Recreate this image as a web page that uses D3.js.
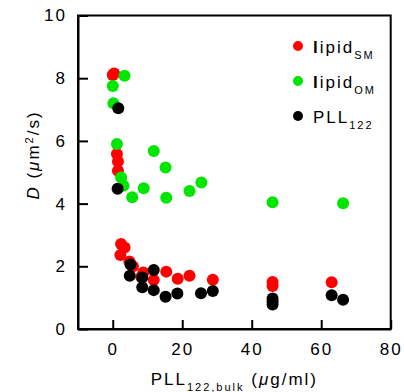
<!DOCTYPE html>
<html>
<head>
<meta charset="utf-8">
<title>D vs PLL bulk</title>
<script src="https://d3js.org/d3.v7.min.js"></script>
<style>
  body { margin: 0; background: #fff; }
  svg text { font-family: "Liberation Sans", Arial, sans-serif; fill: #000; letter-spacing: 2px; }
  .axis path, .axis line { stroke: #000; stroke-width: 2px; }
  .axis text { font-size: 17px; }
</style>
</head>
<body>
<div id="chart"></div>
<script>
  // lipid SM (red)
  var smX = [0, 0.4, 1.2, 1.5, 1.5, 2.4, 3.4, 2.2, 4.8, 5.8, 8.8, 8.2, 11.8, 15.4, 18.7, 22.1, 28.8, 46, 46, 63];
  var smY = [8.1, 8.15, 5.58, 5.34, 5.05, 2.71, 2.6, 2.36, 2.15, 2.0, 1.8, 1.66, 1.56, 1.83, 1.6, 1.7, 1.57, 1.5, 1.37, 1.49];

  // lipid OM (green)
  var omX = [3.4, 0, 0.2, 1.2, 2.4, 3.1, 5.6, 8.9, 11.8, 15.2, 15.4, 22.1, 25.5, 46, 66.3];
  var omY = [8.08, 7.75, 7.2, 5.9, 4.83, 4.57, 4.2, 4.49, 5.68, 5.15, 4.19, 4.4, 4.67, 4.04, 4.01];

  // PLL122 (black)
  var pllX = [1.6, 1.4, 5.1, 4.9, 8.5, 8.5, 11.8, 11.8, 15.2, 18.6, 25.4, 28.8, 46, 46, 46, 63, 66.3];
  var pllY = [7.04, 4.47, 2.06, 1.7, 1.64, 1.33, 1.88, 1.24, 1.03, 1.13, 1.14, 1.21, 0.97, 0.88, 0.78, 1.08, 0.93];

  var xTicks = [0, 20, 40, 60, 80];
  var yTicks = [0, 2, 4, 6, 8, 10];

  var series = [
    {name: "lipid", sub: "SM", color: "#ff0000", xs: smX, ys: smY},
    {name: "lipid", sub: "OM", color: "#00e600", xs: omX, ys: omY},
    {name: "PLL", sub: "122", color: "#000000", xs: pllX, ys: pllY}
  ];

  var svg = d3.select("#chart").append("svg")
      .attr("width", 404)
      .attr("height", 392);

  var margin = {top: 15.5, left: 78},
      width = 312.7,
      height = 313.5;

  var g = svg.append("g").attr("transform", "translate(" + margin.left + "," + margin.top + ")");

  var x = d3.scaleLinear().domain([-10, 80]).range([0, width]);
  var y = d3.scaleLinear().domain([0, 10]).range([height, 0]);

  // frame
  g.append("rect")
      .attr("width", width)
      .attr("height", height)
      .attr("fill", "none")
      .attr("stroke", "#000")
      .attr("stroke-width", 2);

  g.append("g")
      .attr("class", "axis")
      .attr("transform", "translate(0," + height + ")")
      .call(d3.axisBottom(x).tickValues(xTicks).tickSizeInner(-9).tickSizeOuter(0).tickPadding(14));

  g.append("g")
      .attr("class", "axis")
      .call(d3.axisLeft(y).tickValues(yTicks).tickSizeInner(-10).tickSizeOuter(0).tickPadding(11));

  // points: red, then green, then black on top
  series.forEach(function(s) {
    g.append("g").selectAll("circle")
        .data(d3.range(s.xs.length))
      .join("circle")
        .attr("cx", function(i) { return x(s.xs[i]); })
        .attr("cy", function(i) { return y(s.ys[i]); })
        .attr("r", 6)
        .attr("fill", s.color);
  });

  // legend
  var legend = svg.append("g").attr("transform", "translate(298,46)");
  series.forEach(function(s, i) {
    var row = legend.append("g").attr("transform", "translate(0," + (i * 35) + ")");
    row.append("circle").attr("r", 5).attr("fill", s.color);
    var t = row.append("text").attr("x", 15).attr("y", 7).style("font-size", "17px");
    if (s.name == "lipid") {
      t.append("tspan").style("font-weight", "bold").text("l");
      t.append("tspan").text("ipid");
    } else {
      t.append("tspan").text(s.name);
    }
    t.append("tspan").attr("dy", 6).style("font-size", "11px").text(s.sub);
  });

  // x title
  var xt = svg.append("text")
      .attr("x", margin.left + width / 2)
      .attr("y", 385)
      .attr("text-anchor", "middle")
      .style("font-size", "17px");
  xt.append("tspan").text("PLL");
  xt.append("tspan").attr("dy", 6).style("font-size", "11px").text("122,bulk");
  xt.append("tspan").attr("dy", -6).text(" (");
  xt.append("tspan").style("font-style", "italic").text("\u03bc");
  xt.append("tspan").text("g/ml)");

  // y title
  var yt = svg.append("text")
      .attr("transform", "translate(39,155) rotate(-90)")
      .attr("text-anchor", "middle")
      .style("font-size", "17px");
  yt.append("tspan").style("font-style", "italic").text("D");
  yt.append("tspan").text(" (");
  yt.append("tspan").style("font-style", "italic").text("\u03bc");
  yt.append("tspan").text("m");
  yt.append("tspan").attr("dy", -6).style("font-size", "11px").text("2");
  yt.append("tspan").attr("dy", 6).text("/s)");
</script>
</body>
</html>
